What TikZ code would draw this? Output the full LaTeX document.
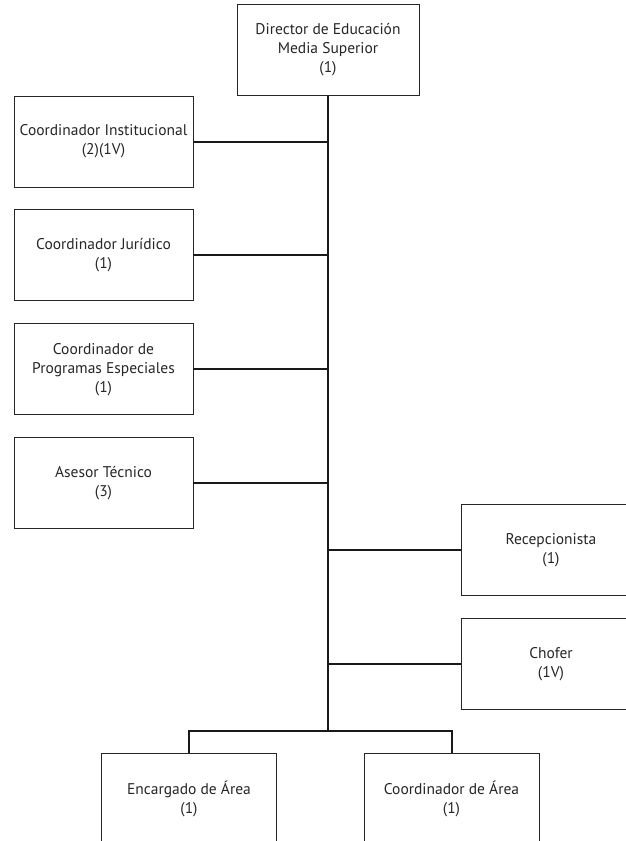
\documentclass[tikz,border=0pt]{standalone}
\usepackage{fontspec}
\setmainfont{PT Sans}
\usepackage{tikz}
\usetikzlibrary{positioning}
\tikzset{
  obox/.style={draw=black!85, line width=0.9pt, minimum width=179pt, minimum height=91pt, align=center, inner sep=2pt, text=black!85, font=\fontsize{15.5}{19}\selectfont},
  oline/.style={line width=2pt, black!90},
}
\begin{document}
\begin{tikzpicture}[x=1pt, y=-1pt, node distance=22pt]
  \useasboundingbox (0,0) rectangle (626,841);
  \clip (0,0) rectangle (626,841);
  \node[obox, minimum width=182pt] (dir) at (328,50) {Director de Educación\\Media Superior\\(1)};
  \node[obox] (inst) at (103.5,141.5) {Coordinador Institucional\\(2)(1V)};
  \node[obox, below=of inst] (jur) {Coordinador Jurídico\\(1)};
  \node[obox, below=of jur] (prog) {Coordinador de\\Programas Especiales\\(1)};
  \node[obox, below=of prog] (ases) {Asesor Técnico\\(3)};
  \node[obox] (recep) at (551,550) {Recepcionista\\(1)};
  \node[obox, below=of recep] (chofer) {Chofer\\(1V)};
  \node[obox, minimum width=175pt] (encarg) at (189,799) {Encargado de Área\\(1)};
  \node[obox, minimum width=175pt] (coarea) at (451.5,799) {Coordinador de Área\\(1)};
  \coordinate (tb) at (328,731);
  % tronco y ramas
  \draw[oline] (dir.south) -- (tb);
  \foreach \n in {inst,jur,prog,ases}
    \draw[oline] (\n.east) -- (\n.east -| tb);
  \foreach \n in {recep,chofer}
    \draw[oline] (\n.west) -- (\n.west -| tb);
  \draw[oline] (encarg.north) |- (tb) -| (coarea.north);
\end{tikzpicture}
\end{document}
